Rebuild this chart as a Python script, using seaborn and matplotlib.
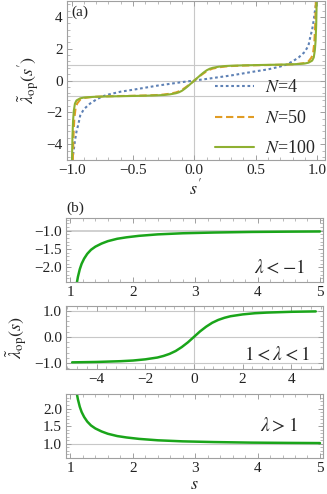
import numpy as np
import pandas as pd
import matplotlib
matplotlib.use("Agg")
import matplotlib.pyplot as plt
from matplotlib.ticker import AutoMinorLocator
import seaborn as sns

# panel (a) curves
sp_n4 = [-0.995, -0.985, -0.973, -0.96, -0.945, -0.93, -0.9, -0.85, -0.8, -0.75, -0.7, -0.6, -0.5, -0.4,
         -0.3, -0.2, -0.1, 0.0, 0.1, 0.2, 0.3, 0.4, 0.5, 0.6, 0.7, 0.75, 0.8, 0.85, 0.9, 0.93, 0.945,
         0.96, 0.973, 0.985, 0.995]
lam_n4 = [-5.0, -4.5, -3.8, -3.2, -2.75, -2.2, -1.8, -1.45, -1.2, -1.0, -0.88, -0.7, -0.58, -0.45,
          -0.32, -0.21, -0.1, 0.0, 0.1, 0.21, 0.32, 0.45, 0.58, 0.7, 0.88, 1.0, 1.2, 1.45, 1.8, 2.2, 2.75,
          3.2, 3.8, 4.5, 5.0]

sp_n50 = [-0.99, -0.985, -0.978, -0.968, -0.955, -0.93, -0.9, -0.85, -0.8, -0.7, -0.6, -0.5, -0.4, -0.3,
          -0.25, -0.2, -0.15, -0.125, -0.1, -0.075, -0.05, -0.025, 0.0, 0.025, 0.05, 0.075, 0.1, 0.125,
          0.15, 0.2, 0.25, 0.3, 0.4, 0.5, 0.6, 0.7, 0.8, 0.85, 0.9, 0.93, 0.955, 0.968, 0.978, 0.985, 0.99]
lam_n50 = [-5.0, -3.5, -2.4, -1.75, -1.45, -1.2, -1.1, -1.05, -1.02, -0.99, -0.975, -0.96, -0.94, -0.91,
           -0.88, -0.83, -0.75, -0.68, -0.58, -0.45, -0.31, -0.16, 0.0, 0.16, 0.31, 0.45, 0.58, 0.68,
           0.75, 0.83, 0.88, 0.91, 0.94, 0.96, 0.975, 0.99, 1.02, 1.05, 1.1, 1.2, 1.45, 1.75, 2.4, 3.5, 5.0]

sp_n100 = [-0.997, -0.993, -0.988, -0.982, -0.973, -0.96, -0.93, -0.9, -0.85, -0.8, -0.7, -0.6, -0.5, -0.4,
           -0.3, -0.25, -0.2, -0.15, -0.125, -0.1, -0.075, -0.05, -0.025, 0.0, 0.025, 0.05, 0.075, 0.1,
           0.125, 0.15, 0.2, 0.25, 0.3, 0.4, 0.5, 0.6, 0.7, 0.8, 0.85, 0.9, 0.93, 0.96, 0.973, 0.982,
           0.988, 0.993, 0.997]
lam_n100 = [-5.0, -3.5, -2.5, -1.9, -1.45, -1.25, -1.12, -1.07, -1.04, -1.02, -1.0, -0.985, -0.97, -0.955,
            -0.93, -0.91, -0.87, -0.8, -0.74, -0.64, -0.5, -0.34, -0.17, 0.0, 0.17, 0.34, 0.5, 0.64,
            0.74, 0.8, 0.87, 0.91, 0.93, 0.955, 0.97, 0.985, 1.0, 1.02, 1.04, 1.07, 1.12, 1.25, 1.45, 1.9,
            2.5, 3.5, 5.0]

# panel (b) curves
s_pos = [1.1, 1.12, 1.15, 1.18, 1.22, 1.27, 1.33, 1.4, 1.5, 1.6, 1.75, 1.9, 2.1, 2.4, 2.8, 3.3, 3.9, 4.5, 5.0]
lam_neg = [-2.45, -2.26, -2.05, -1.9, -1.76, -1.63, -1.52, -1.435, -1.35, -1.285, -1.22, -1.18, -1.14,
           -1.1, -1.07, -1.05, -1.034, -1.026, -1.021]
lam_big = [2.45, 2.26, 2.05, 1.9, 1.76, 1.63, 1.52, 1.435, 1.35, 1.285, 1.22, 1.18, 1.14,
           1.1, 1.07, 1.05, 1.034, 1.026, 1.021]
s_mid = [-5, -4, -3, -2.5, -2, -1.5, -1.25, -1, -0.75, -0.5, -0.25, 0,
         0.25, 0.5, 0.75, 1, 1.25, 1.5, 2, 2.5, 3, 4, 5]
lam_mid = [-0.975, -0.96, -0.93, -0.905, -0.86, -0.79, -0.73, -0.65, -0.54, -0.39, -0.21, 0.0,
           0.21, 0.39, 0.54, 0.65, 0.73, 0.79, 0.86, 0.905, 0.93, 0.96, 0.975]

sns.set_theme(style="ticks")
plt.rcParams['font.family'] = ['Liberation Serif', 'DejaVu Serif']
plt.rcParams['mathtext.fontset'] = 'stix'
plt.rcParams['axes.unicode_minus'] = True

frame = '#a0a0a0'
grid = '#c8c8c8'
green_b = '#1aa51a'
lw = 1.5

fig = plt.figure(figsize=(3.27, 4.94), dpi=100)
axa = fig.add_axes([0.204, 0.676, 0.790, 0.322])
ax1 = fig.add_axes([0.202, 0.429, 0.786, 0.130])
ax2 = fig.add_axes([0.202, 0.253, 0.786, 0.128])
ax3 = fig.add_axes([0.202, 0.073, 0.786, 0.130])

def style(ax):
    for sp in ax.spines.values():
        sp.set_color(frame)
        sp.set_linewidth(0.8)
    ax.tick_params(which='both', direction='in', color=frame, top=True, right=True,
                   labelsize=11, labelcolor='#222222', pad=3)
    ax.tick_params(which='major', length=3.5, width=0.7)
    ax.tick_params(which='minor', length=2, width=0.5)
    ax.xaxis.set_minor_locator(AutoMinorLocator(5))
    ax.yaxis.set_minor_locator(AutoMinorLocator(5))

# (a)
for y in (-1, 0, 1):
    axa.axhline(y, color=grid, lw=0.8, zorder=0)
axa.axvline(0, color=grid, lw=0.8, zorder=0)
df4 = pd.DataFrame({'s': sp_n4, 'l': lam_n4})
df50 = pd.DataFrame({'s': sp_n50, 'l': lam_n50})
df100 = pd.DataFrame({'s': sp_n100, 'l': lam_n100})
sns.lineplot(data=df4, x='s', y='l', ax=axa, color='#5e81b5', lw=lw, ls=(0, (1.3, 1.3)),
             label='$N$=4', sort=False)
sns.lineplot(data=df50, x='s', y='l', ax=axa, color='#e19c24', lw=lw, ls=(0, (3.5, 1.8)),
             label='$N$=50', sort=False)
sns.lineplot(data=df100, x='s', y='l', ax=axa, color='#8fb032', lw=lw,
             label='$N$=100', sort=False)
axa.set_xlim(-1.04, 1.065)
axa.set_ylim(-5, 5)
axa.set_xticks([-1.0, -0.5, 0.0, 0.5, 1.0])
axa.set_xticklabels(['\u22121.0', '\u22120.5', '0.0', '0.5', '1.0'])
axa.set_yticks([-4, -2, 0, 2, 4])
axa.set_yticklabels(['\u22124', '\u22122', '0', '2', '4'])
axa.set_xlabel("$s^{\\prime}$", fontsize=13, labelpad=1)
axa.set_ylabel(r"$\tilde{\lambda}_{\rm op}(s^{\prime})$", fontsize=13, labelpad=4)
axa.text(0.02, 0.97, '(a)', transform=axa.transAxes, fontsize=11, va='top', ha='left')
axa.legend(loc='lower right', frameon=False, fontsize=13, handlelength=2.2,
           labelspacing=0.75, borderaxespad=0.1, handletextpad=0.6, bbox_to_anchor=(1.0, -0.04))
style(axa)

# (b) top: lambda < -1
ax1.axhline(-1, color=grid, lw=1.2, zorder=0)
sns.lineplot(x=s_pos, y=lam_neg, ax=ax1, color=green_b, lw=lw + 0.3)
ax1.set_xlim(0.93, 5.05)
ax1.set_ylim(-2.4, -0.65)
ax1.set_xticks([1, 2, 3, 4, 5])
ax1.set_yticks([-1.0, -1.5, -2.0])
ax1.set_yticklabels(['\u22121.0', '\u22121.5', '\u22122.0'])
ax1.text(0.93, 0.22, r'$\lambda < -1$', transform=ax1.transAxes, fontsize=14, ha='right', va='center')
ax1.text(0.0, 1.04, '(b)', transform=ax1.transAxes, fontsize=11, ha='left', va='bottom')
style(ax1)

# (b) middle
for y in (-1, 0, 1):
    ax2.axhline(y, color=grid, lw=0.8, zorder=0)
ax2.axvline(0, color=grid, lw=0.8, zorder=0)
sns.lineplot(x=s_mid, y=lam_mid, ax=ax2, color=green_b, lw=lw + 0.3)
ax2.set_xlim(-5.25, 5.3)
ax2.set_ylim(-1.23, 1.19)
ax2.set_xticks([-4, -2, 0, 2, 4])
ax2.set_xticklabels(['\u22124', '\u22122', '0', '2', '4'])
ax2.set_yticks([-1.0, 0.0, 1.0])
ax2.set_yticklabels(['\u22121.0', '0.0', '1.0'])
ax2.set_ylabel(r"$\tilde{\lambda}_{\rm op}(s)$", fontsize=13, labelpad=4)
ax2.text(0.95, 0.23, r'$1 < \lambda < 1$', transform=ax2.transAxes, fontsize=14, ha='right', va='center')
style(ax2)

# (b) bottom: lambda > 1
ax3.axhline(1, color=grid, lw=0.8, zorder=0)
sns.lineplot(x=s_pos, y=lam_big, ax=ax3, color=green_b, lw=lw + 0.3)
ax3.set_xlim(0.93, 5.05)
ax3.set_ylim(0.6, 2.42)
ax3.set_xticks([1, 2, 3, 4, 5])
ax3.set_yticks([1.0, 1.5, 2.0])
ax3.set_xlabel('$s$', fontsize=13, labelpad=1)
ax3.text(0.9, 0.5, r'$\lambda > 1$', transform=ax3.transAxes, fontsize=14, ha='right', va='center')
style(ax3)

fig.savefig('out.png', dpi=100)
